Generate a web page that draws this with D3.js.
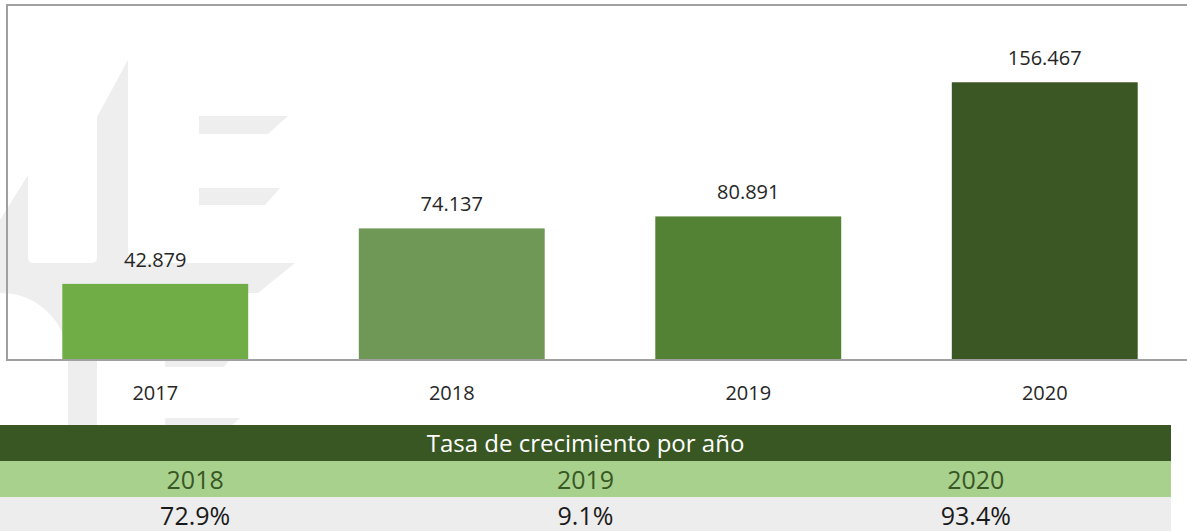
<!DOCTYPE html>
<html>
<head>
<meta charset="utf-8">
<script src="https://cdn.jsdelivr.net/npm/d3@7"></script>
<style>
  html, body { margin: 0; padding: 0; background: #fff; }
  svg { display: block; font-family: "Open Sans", "Noto Sans", sans-serif; }
</style>
</head>
<body>
<svg id="chart" width="1187" height="531"></svg>
<script>
// data
var years = ["2017", "2018", "2019", "2020"];
var values = [42879, 74137, 80891, 156467];
var barColors = ["#70ad47", "#6f9756", "#548235", "#3a5724"];

var growthTitle = "Tasa de crecimiento por año";
var growthYears = ["2018", "2019", "2020"];
var growthRates = [72.9, 9.1, 93.4];

var svg = d3.select("#chart"),
    width = 1187,
    height = 531;

// spanish style thousands separator
var es = d3.formatLocale({decimal: ",", thousands: ".", grouping: [3], currency: ["", ""]});
var fmtValue = es.format(",d");
var fmtRate = function(v) { return d3.format(".1f")(v) + "%"; };

// background logo watermark (decoration only)
var wm = svg.append("g").attr("fill", "#eeeeee");
wm.append("path").attr("d",
  "M0,220 L28,175 L28,257 Q28,263 34,263 L91,263 Q97,263 97,257 L97,117 L128,60 L128,263 " +
  "L295,263 L258,293 L97,293 L97,430 L68,430 L68,360 A67,67 0 0 0 0,293 Z");
wm.append("path").attr("d", "M199,116 L288,116 L268,134 L199,134 Z");
wm.append("path").attr("d", "M199,188 L280,188 L265,205 L199,205 Z");
wm.append("path").attr("d", "M165,346 L240,346 L224,367 L165,367 Z");
wm.append("path").attr("d", "M165,418 L240,418 L232,425 L165,425 Z");

// plot area
var plot = {left: 7, top: 5, bottom: 360, right: 1193};

var x = d3.scaleBand()
    .domain(years)
    .range([plot.left, plot.right])
    .paddingInner(0.373)
    .paddingOuter(0.1865);

var y = d3.scaleLinear()
    .domain([0, 200000])
    .range([plot.bottom, plot.top]);

// bars
svg.append("g").selectAll("rect")
  .data(years)
  .join("rect")
    .attr("x", function(d) { return x(d); })
    .attr("width", x.bandwidth())
    .attr("y", function(d, i) { return y(values[i]); })
    .attr("height", function(d, i) { return y(0) - y(values[i]); })
    .attr("fill", function(d, i) { return barColors[i]; });

// value labels
svg.append("g").selectAll("text")
  .data(years)
  .join("text")
    .attr("x", function(d) { return x(d) + x.bandwidth() / 2; })
    .attr("y", function(d, i) { return y(values[i]) - 17; })
    .attr("text-anchor", "middle")
    .attr("font-size", 20)
    .attr("fill", "#262626")
    .text(function(d, i) { return fmtValue(values[i]); });

// frame: top, left and bottom (right edge falls outside)
var frame = svg.append("g").attr("stroke", "#a0a0a0").attr("stroke-width", 2).attr("fill", "none");
frame.append("path").attr("d", "M" + (width + 5) + "," + plot.top + " H" + plot.left + " V" + plot.bottom + " H" + (width + 5));

// x axis
var xAxis = svg.append("g")
    .attr("transform", "translate(0," + plot.bottom + ")")
    .call(d3.axisBottom(x).tickSize(0).tickPadding(0));
xAxis.select(".domain").remove();
xAxis.selectAll("text")
    .attr("dy", null)
    .attr("y", 40)
    .attr("font-size", 20)
    .attr("font-family", "Open Sans, sans-serif")
    .attr("fill", "#262626");

// growth table
var table = {left: 0, right: 1171, top: 425, h1: 36, h2: 36, h3: 40};

var col = d3.scaleBand()
    .domain(growthYears)
    .range([table.left, table.right]);

var tg = svg.append("g");
tg.append("rect")
    .attr("x", table.left).attr("y", table.top)
    .attr("width", table.right - table.left).attr("height", table.h1)
    .attr("fill", "#385723");
tg.append("text")
    .attr("x", (table.left + table.right) / 2)
    .attr("y", table.top + 27)
    .attr("text-anchor", "middle")
    .attr("font-size", 24)
    .attr("fill", "#ffffff")
    .text(growthTitle);

tg.append("rect")
    .attr("x", table.left).attr("y", table.top + table.h1)
    .attr("width", table.right - table.left).attr("height", table.h2)
    .attr("fill", "#a9d18e");
tg.append("g").selectAll("text")
  .data(growthYears)
  .join("text")
    .attr("x", function(d) { return col(d) + col.bandwidth() / 2; })
    .attr("y", table.top + table.h1 + 28)
    .attr("text-anchor", "middle")
    .attr("font-size", 25)
    .attr("fill", "#385723")
    .text(function(d) { return d; });

tg.append("rect")
    .attr("x", table.left).attr("y", table.top + table.h1 + table.h2)
    .attr("width", table.right - table.left).attr("height", table.h3)
    .attr("fill", "#ededed");
tg.append("g").selectAll("text")
  .data(growthYears)
  .join("text")
    .attr("x", function(d) { return col(d) + col.bandwidth() / 2; })
    .attr("y", table.top + table.h1 + table.h2 + 28)
    .attr("text-anchor", "middle")
    .attr("font-size", 25)
    .attr("fill", "#1a1a1a")
    .text(function(d, i) { return fmtRate(growthRates[i]); });
</script>
</body>
</html>
